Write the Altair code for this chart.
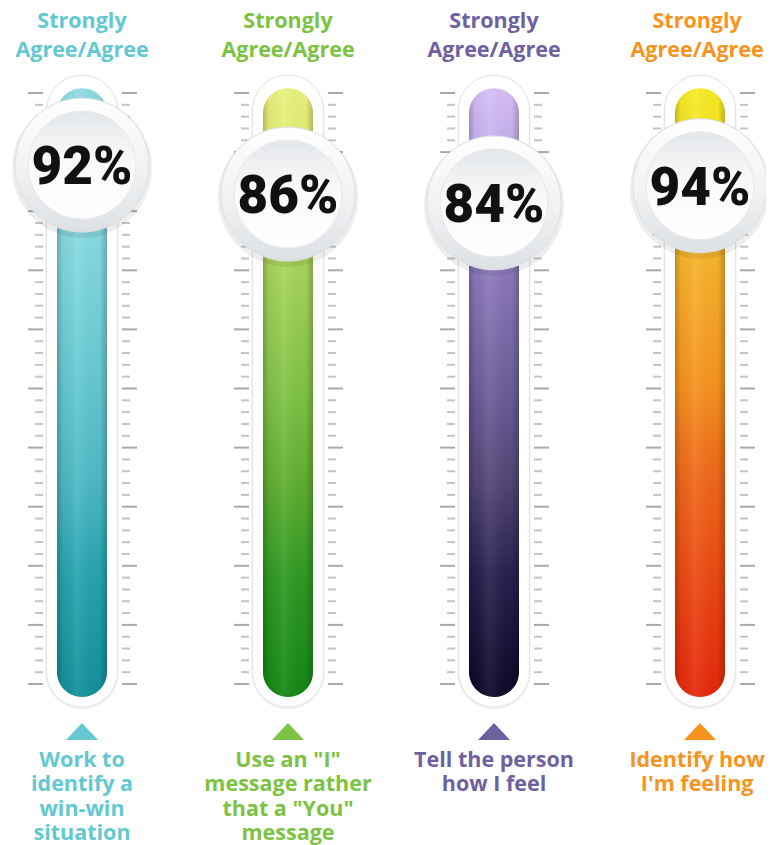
import altair as alt
import pandas as pd

# ---------------- data ----------------
header_lines = ["Strongly", "Agree/Agree"]
percent_values = [92, 86, 84, 94]
# level of the bubble on the gauge (gauge units 0-100)
bubble_level = [87.8, 82.9, 81.4, 84.3]
statements = [
    ["Work to", "identify a", "win-win", "situation"],
    ['Use an "I"', "message rather", 'that a "You"', "message"],
    ["Tell the person", "how I feel"],
    ["Identify how", "I'm feeling"],
]
text_colors = ["#63c8d2", "#7cc243", "#6f60a0", "#f7931e"]
tube_stops = [
    [(0.0, "#8fdbe2"), (0.25, "#86dae1"), (0.5, "#62c8d2"), (0.65, "#4cb9c4"), (0.8, "#26a4af"), (1.0, "#118f9c")],
    [(0.0, "#eaf37e"), (0.12, "#dcec6c"), (0.3, "#a6d55a"), (0.5, "#80c346"), (0.65, "#5fae30"), (0.8, "#2f9a22"), (1.0, "#148714")],
    [(0.0, "#d6bff6"), (0.12, "#c3acea"), (0.3, "#8c7abd"), (0.5, "#6c5d9a"), (0.65, "#524574"), (0.8, "#28204e"), (1.0, "#0c0828")],
    [(0.0, "#f8ee22"), (0.12, "#f6dc26"), (0.28, "#f7b42c"), (0.48, "#f7941f"), (0.63, "#f06a1a"), (0.8, "#ec4a12"), (1.0, "#e6270b")],
]

# ---------------- layout ----------------
W, H = 758, 829
PX_X = 206.0      # pixels per column unit
PX_Y = 5.91       # pixels per gauge unit
x0 = (8 - 82) / PX_X
x1 = x0 + W / PX_X
ytop = (684 - 8) / PX_Y
ybot = ytop - H / PX_Y
XS = alt.Scale(domain=[x0, x1], nice=False, zero=False)
YS = alt.Scale(domain=[ybot, ytop], nice=False, zero=False)

def X(f="x"):
    return alt.X(f"{f}:Q", scale=XS, axis=None)

def Y(f="y"):
    return alt.Y(f"{f}:Q", scale=YS, axis=None)

def grad(stops, horizontal=False):
    return alt.LinearGradient(
        gradient="linear",
        stops=[alt.GradientStop(offset=o, color=c) for o, c in stops],
        x1=0, y1=0, x2=1 if horizontal else 0, y2=0 if horizontal else 1,
    )

layers = []
n = len(percent_values)
# text anchor per column (last column nudged so its text stays inside the canvas)
text_x = [i - (0.014 if i == n - 1 else 0.0) for i in range(n)]

# ticks
rows = []
for i in range(n):
    for k in range(51):
        v = 2 * k
        long = k % 5 == 0
        col = "#a9a9a9" if long else "#c4c4c4"
        rows.append({"x": i - (0.262 if long else 0.228), "x2": i - 0.189, "y": v, "c": col})
        rows.append({"x": i + 0.194, "x2": i + (0.267 if long else 0.233), "y": v, "c": col})
ticks = alt.Chart(pd.DataFrame(rows)).mark_rule(strokeWidth=2).encode(
    x=X(), x2="x2", y=Y(), color=alt.Color("c:N", scale=None))
layers.append(ticks)

# casings
cas = pd.DataFrame({"x": [i - 0.172 for i in range(n)], "x2": [i + 0.172 for i in range(n)],
                    "y": [-3.9] * n, "y2": [103.0] * n})
layers.append(alt.Chart(cas).mark_rect(fill="#000000", opacity=0.05, cornerRadius=37).encode(
    x=alt.X("x:Q", scale=XS, axis=None), x2="x2", y=Y(), y2="y2").transform_calculate(
    x="datum.x - 0.006", x2="datum.x2 + 0.006", y="datum.y - 0.4"))
layers.append(alt.Chart(cas).mark_rect(fill="#ffffff", stroke="#e2e2e2", strokeWidth=1, cornerRadius=35).encode(
    x=X(), x2="x2", y=Y(), y2="y2"))

# tubes
for i in range(n):
    d = pd.DataFrame({"x": [i - 0.1214], "x2": [i + 0.1214], "y": [-2.2], "y2": [100.8]})
    layers.append(alt.Chart(d).mark_rect(fill=grad(tube_stops[i]), cornerRadius=25).encode(
        x=X(), x2="x2", y=Y(), y2="y2"))
    layers.append(alt.Chart(d).mark_rect(
        fill=grad([(0, "rgba(0,0,0,0.22)"), (0.12, "rgba(0,0,0,0.04)"), (0.4, "rgba(255,255,255,0.08)"),
                   (0.85, "rgba(0,0,0,0.02)"), (1, "rgba(0,0,0,0.22)")], horizontal=True),
        cornerRadius=25).encode(x=X(), x2="x2", y=Y(), y2="y2"))

# bubbles
bub = pd.DataFrame({"x": list(range(n)), "y": bubble_level,
                    "t": [f"{p}%" for p in percent_values]})
layers.append(alt.Chart(bub).mark_point(shape="circle", filled=True, size=19600, color="#000000",
                                        opacity=0.07, yOffset=3).encode(x=X(), y=Y()))
layers.append(alt.Chart(bub).mark_point(
    shape="circle", filled=True, size=17956, opacity=1,
    fill=grad([(0, "#ffffff"), (0.6, "#eef0f2"), (1, "#dde0e3")]),
    stroke="#dcdfe2", strokeWidth=1).encode(x=X(), y=Y()))
layers.append(alt.Chart(bub).mark_point(
    shape="circle", filled=True, size=11664, opacity=1,
    fill=grad([(0, "#e4e7ea"), (0.45, "#f8f9fa"), (1, "#ffffff")]),
    stroke="#e6e8ea", strokeWidth=1).encode(x=X(), y=Y()))
layers.append(alt.Chart(bub).mark_text(
    font="Roboto", fontWeight=900,
    fontSize=53, color="#111111", baseline="alphabetic", align="center", dy=19).encode(
    x=X(), y=Y(), text="t:N"))

# header text
hrows = []
for i in range(n):
    for j, line in enumerate(header_lines):
        hrows.append({"x": text_x[i], "y": (684 - (27.5 + 29 * j)) / PX_Y, "t": line, "c": text_colors[i]})
layers.append(alt.Chart(pd.DataFrame(hrows)).mark_text(
    font="Open Sans", fontWeight="bold", fontSize=21.5, baseline="alphabetic", align="center").encode(
    x=X(), y=Y(), text="t:N", color=alt.Color("c:N", scale=None)))

# triangles
tri = pd.DataFrame({"x": list(range(n)), "y": [(684 - 731.5) / PX_Y] * n, "c": text_colors})
layers.append(alt.Chart(tri).mark_point(shape="M-1,0.53L1,0.53L0,-0.53Z", size=1024, filled=True,
                                        opacity=1, strokeWidth=0).encode(
    x=X(), y=Y(), color=alt.Color("c:N", scale=None)))

# statements
srows = []
for i, lines in enumerate(statements):
    for j, line in enumerate(lines):
        srows.append({"x": text_x[i], "y": (684 - (767 + 24.3 * j)) / PX_Y, "t": line, "c": text_colors[i]})
layers.append(alt.Chart(pd.DataFrame(srows)).mark_text(
    font="Open Sans", fontWeight="bold", fontSize=21.5, baseline="alphabetic", align="center").encode(
    x=X(), y=Y(), text="t:N", color=alt.Color("c:N", scale=None)))

chart = alt.layer(*layers).properties(
    width=W, height=H, padding={"left": 0, "top": 0, "right": 0, "bottom": 8},
    autosize=alt.AutoSizeParams(type="none"), background="#ffffff"
).configure_view(strokeWidth=0)

chart.save("out.html", embed_options={"renderer": "svg", "actions": False})
